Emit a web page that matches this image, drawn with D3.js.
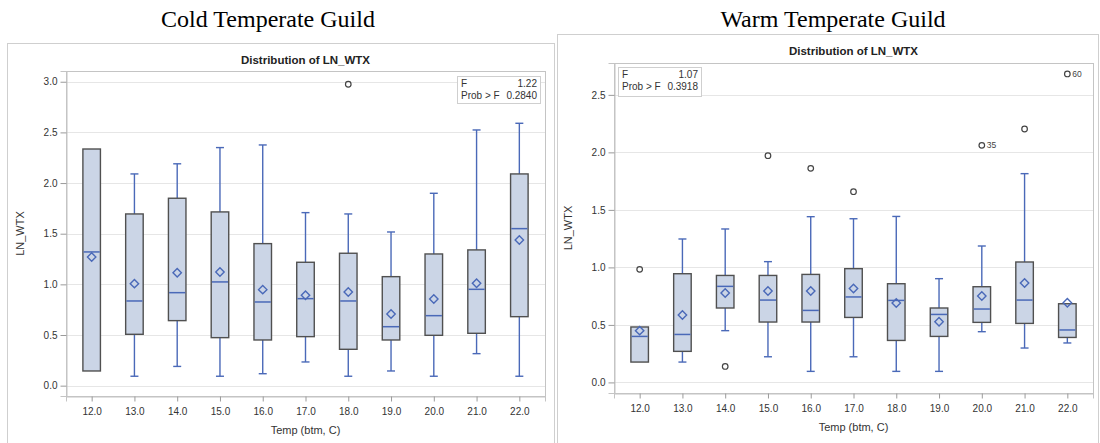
<!DOCTYPE html>
<html>
<head>
<meta charset="utf-8">
<script src="https://cdn.jsdelivr.net/npm/d3@7/dist/d3.min.js"></script>
<style>
  html, body { margin: 0; padding: 0; background: #fff; }
  svg { display: block; }
</style>
</head>
<body>
<svg id="chart" width="1100" height="443"></svg>
<script>
// ---------------- DATA ----------------
const categories = ["12.0","13.0","14.0","15.0","16.0","17.0","18.0","19.0","20.0","21.0","22.0"];

// Cold Temperate Guild
const coldWhiskerLow  = [0.145, 0.093, 0.19, 0.093, 0.118, 0.234, 0.093, 0.145, 0.093, 0.316, 0.093];
const coldQ1          = [0.145, 0.507, 0.642, 0.474, 0.451, 0.484, 0.359, 0.451, 0.497, 0.517, 0.681];
const coldMedian      = [1.32, 0.836, 0.918, 1.024, 0.826, 0.859, 0.836, 0.582, 0.691, 0.951, 1.55];
const coldQ3          = [2.336, 1.695, 1.85, 1.715, 1.402, 1.218, 1.307, 1.076, 1.30, 1.34, 2.09];
const coldWhiskerHigh = [2.336, 2.09, 2.19, 2.35, 2.376, 1.708, 1.695, 1.517, 1.899, 2.524, 2.59];
const coldMean        = [1.27, 1.007, 1.115, 1.122, 0.948, 0.892, 0.925, 0.708, 0.856, 1.011, 1.438];
const coldOutliers    = [{ cat: "18.0", value: 2.975, label: "" }];
const coldTicks       = [0.0, 0.5, 1.0, 1.5, 2.0, 2.5, 3.0];
const coldStats       = { F: "1.22", P: "0.2840" };

// Warm Temperate Guild
const warmWhiskerLow  = [0.177, 0.177, 0.45, 0.223, 0.096, 0.223, 0.096, 0.096, 0.441, 0.299, 0.343];
const warmQ1          = [0.177, 0.27, 0.647, 0.525, 0.525, 0.565, 0.365, 0.40, 0.522, 0.513, 0.391];
const warmMedian      = [0.40, 0.417, 0.835, 0.716, 0.626, 0.743, 0.713, 0.591, 0.638, 0.716, 0.456];
const warmQ3          = [0.482, 0.945, 0.93, 0.93, 0.939, 0.989, 0.858, 0.647, 0.832, 1.047, 0.684];
const warmWhiskerHigh = [0.482, 1.247, 1.334, 1.05, 1.441, 1.423, 1.443, 0.902, 1.186, 1.815, 0.684];
const warmMean        = [0.45, 0.586, 0.777, 0.795, 0.795, 0.817, 0.690, 0.528, 0.751, 0.864, 0.693];
const warmOutliers    = [
  { cat: "12.0", value: 0.983, label: "" },
  { cat: "14.0", value: 0.139, label: "" },
  { cat: "15.0", value: 1.971, label: "" },
  { cat: "16.0", value: 1.861, label: "" },
  { cat: "17.0", value: 1.658, label: "" },
  { cat: "20.0", value: 2.061, label: "35" },
  { cat: "21.0", value: 2.203, label: "" },
  { cat: "22.0", value: 2.682, label: "60" }
];
const warmTicks       = [0.0, 0.5, 1.0, 1.5, 2.0, 2.5];
const warmStats       = { F: "1.07", P: "0.3918" };

const panelTitles = ["Cold Temperate Guild", "Warm Temperate Guild"];
const plotTitle = "Distribution of LN_WTX";
const xTitle = "Temp (btm, C)";
const yTitle = "LN_WTX";

// ---------------- STYLE ----------------
const BOX_FILL = "#cbd5e6";
const BOX_STROKE = "#505050";
const BLUE = "#4a69b8";
const GRID = "#e6e6e6";
const AXIS = "#c4c4c4";
const TEXT = "#333";
const SANS = "'Liberation Sans', Arial, sans-serif";

const svg = d3.select("#chart");

function drawPanel(p) {
  const g = svg.append("g");

  // outer frame
  g.append("rect")
    .attr("x", p.frame[0] + 0.5).attr("y", p.frame[1] + 0.5)
    .attr("width", p.frame[2]).attr("height", p.frame[3])
    .attr("fill", "none").attr("stroke", "#cfcfcf").attr("stroke-width", 1);

  // header
  svg.append("text")
    .attr("x", p.headerX).attr("y", p.headerY)
    .attr("text-anchor", "middle")
    .attr("font-family", "'Liberation Serif', 'Times New Roman', serif")
    .attr("font-size", 24).attr("fill", "#000")
    .text(p.header);

  const x = d3.scalePoint().domain(categories).range([p.x0, p.x1]).padding(0.6);
  const y = d3.scaleLinear().domain(p.yDomain).range([p.y1, p.y0]);
  const step = x.step();
  const bw = step * 0.41;
  const capW = 8;

  // grid lines
  g.append("g").selectAll("line").data(p.ticks).join("line")
    .attr("x1", p.x0).attr("x2", p.x1)
    .attr("y1", d => Math.round(y(d)) + 0.5).attr("y2", d => Math.round(y(d)) + 0.5)
    .attr("stroke", GRID).attr("stroke-width", 1);

  // plot area border
  g.append("rect")
    .attr("x", p.x0 + 0.5).attr("y", p.y0 + 0.5)
    .attr("width", p.x1 - p.x0).attr("height", p.y1 - p.y0)
    .attr("fill", "none").attr("stroke", AXIS).attr("stroke-width", 1);

  // Y axis
  const yAxis = d3.axisLeft(y).tickValues(p.ticks).tickFormat(d3.format(".1f")).tickSize(6).tickPadding(3);
  const ya = g.append("g").attr("transform", `translate(${p.x0 + 0.5},0)`).call(yAxis);
  ya.select(".domain").attr("stroke", AXIS);
  ya.selectAll(".tick line").attr("stroke", "#9a9a9a");
  ya.selectAll(".tick text").attr("font-family", SANS).attr("font-size", 10).attr("fill", TEXT);

  // X axis
  const xAxis = d3.axisBottom(x).tickSize(5).tickPadding(6);
  const xa = g.append("g").attr("transform", `translate(0,${p.y1 + 0.5})`).call(xAxis);
  xa.select(".domain").attr("stroke", AXIS);
  xa.selectAll(".tick line").attr("stroke", "#9a9a9a");
  xa.selectAll(".tick text").attr("font-family", SANS).attr("font-size", 10).attr("fill", TEXT);

  // titles
  g.append("text")
    .attr("x", (p.x0 + p.x1) / 2).attr("y", p.titleY)
    .attr("text-anchor", "middle").attr("font-family", SANS)
    .attr("font-weight", "bold").attr("font-size", 11.5).attr("fill", "#222")
    .text(plotTitle);
  g.append("text")
    .attr("x", (p.x0 + p.x1) / 2).attr("y", p.xTitleY)
    .attr("text-anchor", "middle").attr("font-family", SANS)
    .attr("font-size", 11).attr("fill", TEXT)
    .text(xTitle);
  g.append("text")
    .attr("transform", `translate(${p.yTitleX},${(p.y0 + p.y1) / 2}) rotate(-90)`)
    .attr("text-anchor", "middle").attr("font-family", SANS)
    .attr("font-size", 11).attr("fill", TEXT)
    .text(yTitle);

  // boxes
  const rows = categories.map((c, i) => ({
    c, lo: p.lo[i], q1: p.q1[i], med: p.med[i], q3: p.q3[i], hi: p.hi[i], mean: p.mean[i]
  }));
  const bg = g.append("g").selectAll("g").data(rows).join("g");

  // whiskers
  bg.append("line")
    .attr("x1", d => x(d.c)).attr("x2", d => x(d.c))
    .attr("y1", d => y(d.hi)).attr("y2", d => y(d.q3))
    .attr("stroke", BLUE).attr("stroke-width", 1.4);
  bg.append("line")
    .attr("x1", d => x(d.c)).attr("x2", d => x(d.c))
    .attr("y1", d => y(d.q1)).attr("y2", d => y(d.lo))
    .attr("stroke", BLUE).attr("stroke-width", 1.4);
  bg.filter(d => d.hi > d.q3).append("line")
    .attr("x1", d => x(d.c) - capW / 2).attr("x2", d => x(d.c) + capW / 2)
    .attr("y1", d => y(d.hi)).attr("y2", d => y(d.hi))
    .attr("stroke", BLUE).attr("stroke-width", 1.4);
  bg.filter(d => d.lo < d.q1).append("line")
    .attr("x1", d => x(d.c) - capW / 2).attr("x2", d => x(d.c) + capW / 2)
    .attr("y1", d => y(d.lo)).attr("y2", d => y(d.lo))
    .attr("stroke", BLUE).attr("stroke-width", 1.4);

  // box
  bg.append("rect")
    .attr("x", d => x(d.c) - bw / 2).attr("width", bw)
    .attr("y", d => y(d.q3)).attr("height", d => y(d.q1) - y(d.q3))
    .attr("fill", BOX_FILL).attr("stroke", BOX_STROKE).attr("stroke-width", 1.4);

  // median
  bg.append("line")
    .attr("x1", d => x(d.c) - bw / 2 + 0.7).attr("x2", d => x(d.c) + bw / 2 - 0.7)
    .attr("y1", d => y(d.med)).attr("y2", d => y(d.med))
    .attr("stroke", BLUE).attr("stroke-width", 1.5);

  // mean diamond
  const dm = 4.2;
  bg.append("path")
    .attr("d", d => {
      const cx = x(d.c), cy = y(d.mean);
      return `M${cx},${cy - dm}L${cx + dm},${cy}L${cx},${cy + dm}L${cx - dm},${cy}Z`;
    })
    .attr("fill", "none").attr("stroke", BLUE).attr("stroke-width", 1.4);

  // outliers
  const og = g.append("g").selectAll("g").data(p.outliers).join("g");
  og.append("circle")
    .attr("cx", d => x(d.cat)).attr("cy", d => y(d.value)).attr("r", 2.8)
    .attr("fill", "none").attr("stroke", "#444").attr("stroke-width", 1.2);
  og.filter(d => d.label).append("text")
    .attr("x", d => x(d.cat) + 5).attr("y", d => y(d.value) + 3)
    .attr("font-family", SANS).attr("font-size", 8.5).attr("fill", "#444")
    .text(d => d.label);

  // stats inset
  const L = p.legend;
  g.append("rect")
    .attr("x", L[0] + 0.5).attr("y", L[1] + 0.5).attr("width", L[2]).attr("height", L[3])
    .attr("fill", "#fff").attr("stroke", "#cfcfcf").attr("stroke-width", 1);
  const lt = (tx, ty, s, anchor) => g.append("text")
    .attr("x", tx).attr("y", ty).attr("text-anchor", anchor)
    .attr("font-family", SANS).attr("font-size", 10).attr("fill", TEXT).text(s);
  lt(L[0] + 4, L[1] + 10.5, "F", "start");
  lt(L[0] + L[2] - 3, L[1] + 10.5, p.stats.F, "end");
  lt(L[0] + 4, L[1] + 22.5, "Prob > F", "start");
  lt(L[0] + L[2] - 3, L[1] + 22.5, p.stats.P, "end");
}

drawPanel({
  header: panelTitles[0], headerX: 268, headerY: 27,
  frame: [7, 43, 547, 430],
  x0: 66, x1: 545, y0: 71, y1: 396,
  yDomain: [-0.102, 3.106],
  ticks: coldTicks,
  titleY: 64, xTitleY: 434, yTitleX: 24,
  lo: coldWhiskerLow, q1: coldQ1, med: coldMedian, q3: coldQ3, hi: coldWhiskerHigh, mean: coldMean,
  outliers: coldOutliers,
  legend: [457, 76, 83, 27],
  stats: coldStats
});

drawPanel({
  header: panelTitles[1], headerX: 833, headerY: 27,
  frame: [557, 34, 541, 440],
  x0: 614, x1: 1093, y0: 63, y1: 393,
  yDomain: [-0.092, 2.777],
  ticks: warmTicks,
  titleY: 55, xTitleY: 431, yTitleX: 572,
  lo: warmWhiskerLow, q1: warmQ1, med: warmMedian, q3: warmQ3, hi: warmWhiskerHigh, mean: warmMean,
  outliers: warmOutliers,
  legend: [618, 67, 83, 29],
  stats: warmStats
});
</script>
</body>
</html>
